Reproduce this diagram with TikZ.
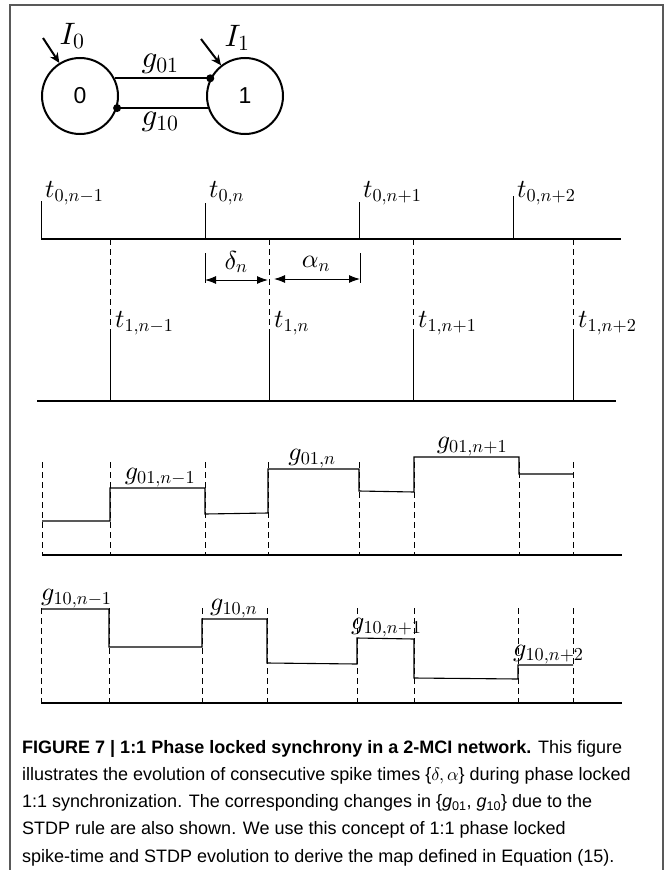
\documentclass[tikz,border=0pt]{standalone}
\usepackage{fontspec}
\setsansfont{Liberation Sans}
% math fonts scalable to any size
\DeclareFontFamily{OML}{cmm}{\skewchar\font'177}
\DeclareFontShape{OML}{cmm}{m}{it}{<->cmmi10}{}
\DeclareFontFamily{OMS}{cmsy}{\skewchar\font'60}
\DeclareFontShape{OMS}{cmsy}{m}{n}{<->cmsy10}{}
\DeclareFontFamily{OT1}{cmr}{\hyphenchar\font45}
\DeclareFontShape{OT1}{cmr}{m}{n}{<->cmr10}{}
\usetikzlibrary{arrows.meta}

\begin{document}
\begin{tikzpicture}[
    x=1pt, y=-1pt,
    cell/.style={draw, circle, line width=2pt, minimum size=76pt, inner sep=0pt,
                 font=\sffamily\fontsize{23}{25}\selectfont},
    syn/.style={line width=2pt},
    dot/.style={circle, fill=black, inner sep=0pt, minimum size=8pt},
    input/.style={-{Stealth[length=10pt,width=9pt]}, line width=2pt},
    big/.style={font=\fontsize{31}{33}\selectfont, inner sep=0pt},
    lbl/.style={font=\fontsize{26}{30}\selectfont, inner sep=1pt},
    axis/.style={line width=2.2pt},
    spike/.style={line width=0.9pt},
    dashln/.style={line width=0.9pt, dash pattern=on 6pt off 4pt},
    stepln/.style={line width=1.1pt},
    span/.style={{Latex[length=11pt,width=8pt]}-{Latex[length=11pt,width=8pt]}, line width=1pt},
    caption/.style={font=\sffamily\fontsize{18}{27.2}\selectfont, align=left, inner sep=0pt},
    frame/.style={line width=1.5pt, black!65},
]
\useasboundingbox (0,0) rectangle (666,870);

% --- frame (open at the bottom) ---
\draw[frame] (10,870) -- (10,5) -- (663,5) -- (663,870);

% --- two-cell network ---
\node[cell] (n0) at (80,96) {0};
\node[cell] (n1) at (245,96) {1};
\draw[syn] (n0.27) -- (n1.153);
\draw[syn] (n0.-18) -- (n1.198);
\node[dot] (d01) at (n1.153) {};
\node[dot] (d10) at (n0.-18) {};
\node[big] (g01) at (160,64) {$g_{01}$};
\node[big] (g10) at (160,122) {$g_{10}$};
\coordinate (i0) at (43,38);
\coordinate (i1) at (201,39);
\draw[input] (i0) -- (n0.122);
\draw[input] (i1) -- (n1.128);
\node[big] (I0) at (72,36) {$I_0$};
\node[big] (I1) at (237,38) {$I_1$};

% --- spike times of cell 0 ---
\draw[axis] (41,239) -- (621,239);
\foreach \x/\top/\k/\sub in {41/201/a/{n-1}, 205/203/b/n, 359/202/c/{n+1}, 513/196/d/{n+2}}{
    \draw[spike] (\x,239) -- (\x,\top);
    \node[lbl, anchor=west] (t0\k) at (\x+3,193) {$t_{0,\sub}$};
}

% --- spike times of cell 1 ---
\draw[axis] (37,401) -- (616,401);
\foreach \x/\k/\sub in {110/a/{n-1}, 269/b/n, 413/c/{n+1}, 573/d/{n+2}}{
    \draw[dashln] (\x,239) -- (\x,330);
    \draw[spike] (\x,330) -- (\x,401);
    \node[lbl, anchor=west] (t1\k) at (\x+4,323) {$t_{1,\sub}$};
}

% delta and alpha
\draw[spike] (205,253) -- (205,283);
\draw[spike] (360,253) -- (360,283);
\coordinate (da) at (205,280);
\coordinate (db) at (268,280);
\coordinate (aa) at (274,279);
\coordinate (ab) at (360,279);
\draw[span] (da) -- (db);
\draw[span] (aa) -- (ab);
\node[lbl] (dn) at (236,262) {$\delta_n$};
\node[lbl] (an) at (316,264) {$\alpha_n$};

% --- g01 ---
\draw[axis] (42,555) -- (622,555);
\foreach \x in {42,110,205,268,359,414,519,573}
    \draw[dashln] (\x,462) -- (\x,555);
\draw[stepln] (42,521) -- (110,521) -- (110,488) -- (205,488) -- (205,514) -- (268,513)
    -- (268,469) -- (359,469) -- (359,491) -- (414,492) -- (414,457) -- (519,457)
    -- (519,474) -- (573,474);
\node[lbl, anchor=south] (ga) at (160,488) {$g_{01,n-1}$};
\node[lbl, anchor=south] (gb) at (312,469) {$g_{01,n}$};
\node[lbl, anchor=south] (gc) at (472,457) {$g_{01,n+1}$};

% --- g10 ---
\draw[axis] (41,703) -- (622,703);
\foreach \x in {41,109,202,267,357,414,518,573}
    \draw[dashln] (\x,608) -- (\x,703);
\draw[stepln] (41,609) -- (109,609) -- (109,647) -- (202,647) -- (202,619) -- (267,619)
    -- (267,663) -- (357,664) -- (357,638) -- (414,639) -- (414,678) -- (518,679)
    -- (518,665) -- (573,665);
\node[lbl, anchor=south west] (ha) at (40,609) {$g_{10,n-1}$};
\node[lbl, anchor=south west] (hb) at (209,619) {$g_{10,n}$};
\node[lbl, anchor=south west] (hc) at (350,638) {$g_{10,n+1}$};
\node[lbl, anchor=south west] (hd) at (512,665) {$g_{10,n+2}$};

% --- caption ---
\node[caption, anchor=north west] (cap) at (22,740) {%
    \textbf{FIGURE 7 | 1:1 Phase locked synchrony in a 2-MCI network.} This figure\\
    illustrates the evolution of consecutive spike times \{$\delta,\alpha$\} during phase locked\\
    1:1 synchronization. The corresponding changes in \{\textit{g}\textsubscript{01}, \textit{g}\textsubscript{10}\} due to the\\
    STDP rule are also shown. We use this concept of 1:1 phase locked\\
    spike-time and STDP evolution to derive the map defined in Equation (15).};

\end{tikzpicture}
\end{document}
